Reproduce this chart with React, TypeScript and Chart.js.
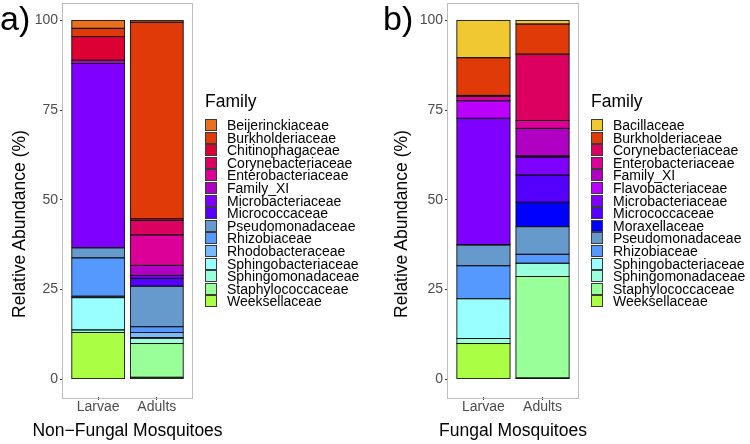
import React, { useEffect, useRef } from "react";
import { Chart, registerables } from "chart.js";

Chart.register(...registerables);

const FONT = "'Liberation Sans', Arial, Helvetica, sans-serif";
Chart.defaults.font.family = FONT;

// ---------- data ----------
const categories = ["Larvae", "Adults"];
const yTicks = [0, 25, 50, 75, 100];

const familiesA = [
  "Beijerinckiaceae", "Burkholderiaceae", "Chitinophagaceae", "Corynebacteriaceae",
  "Enterobacteriaceae", "Family_XI", "Microbacteriaceae", "Micrococcaceae",
  "Pseudomonadaceae", "Rhizobiaceae", "Rhodobacteraceae", "Sphingobacteriaceae",
  "Sphingomonadaceae", "Staphylococcaceae", "Weeksellaceae",
];
const nonFungalLarvae = [2.2, 2.3, 6.6, 0, 0, 0.9, 51.4, 0, 2.8, 10.7, 0.4, 9.0, 0.7, 0, 13.0];
const nonFungalAdults = [0.5, 54.8, 0.5, 4.0, 8.5, 2.8, 0.8, 2.2, 11.3, 1.6, 1.4, 0.2, 1.5, 9.4, 0.5];

const familiesB = [
  "Bacillaceae", "Burkholderiaceae", "Corynebacteriaceae", "Enterobacteriaceae",
  "Family_XI", "Flavobacteriaceae", "Microbacteriaceae", "Micrococcaceae",
  "Moraxellaceae", "Pseudomonadaceae", "Rhizobiaceae", "Sphingobacteriaceae",
  "Sphingomonadaceae", "Staphylococcaceae", "Weeksellaceae",
];
const fungalLarvae = [10.4, 10.5, 0.3, 1.2, 0, 4.9, 35.2, 0.1, 0, 5.8, 9.2, 11.1, 1.4, 0, 9.9];
const fungalAdults = [1.0, 8.4, 18.5, 2.2, 7.7, 0.3, 5.0, 7.6, 6.8, 7.7, 2.5, 0, 3.7, 28.3, 0.3];

const familyColors: Record<string, string> = {
  Bacillaceae: "#F0C832",
  Beijerinckiaceae: "#E8701E",
  Burkholderiaceae: "#DF3A07",
  Chitinophagaceae: "#DC0033",
  Corynebacteriaceae: "#DC0060",
  Enterobacteriaceae: "#DC0098",
  Family_XI: "#B000C4",
  Flavobacteriaceae: "#BB00FF",
  Microbacteriaceae: "#8000FF",
  Micrococcaceae: "#5500FF",
  Moraxellaceae: "#0000FF",
  Pseudomonadaceae: "#6699CC",
  Rhizobiaceae: "#5599FF",
  Rhodobacteraceae: "#77BBFF",
  Sphingobacteriaceae: "#99FFFF",
  Sphingomonadaceae: "#99FFDD",
  Staphylococcaceae: "#99FF99",
  Weeksellaceae: "#AAFF44",
};

// ---------- helpers ----------
const framePlugin = {
  id: "panelFrame",
  afterDraw(chart: any) {
    const { ctx, chartArea: a } = chart;
    ctx.save();
    ctx.strokeStyle = "#BDBDBD";
    ctx.lineWidth = 1;
    ctx.strokeRect(Math.round(a.left) - 0.5, Math.round(a.top) + 0.5, Math.round(a.right - a.left) + 1, Math.round(a.bottom - a.top));
    ctx.restore();
  },
};

// outline every stacked segment with a single thin dark line (like ggplot's colour = "black")
const outlinePlugin = {
  id: "segmentOutline",
  afterDatasetsDraw(chart: any) {
    const { ctx } = chart;
    ctx.save();
    ctx.strokeStyle = "#111111";
    ctx.lineWidth = 0.9;
    chart.data.datasets.forEach((_: any, di: number) => {
      const meta = chart.getDatasetMeta(di);
      meta.data.forEach((el: any) => {
        const h = Math.abs(el.base - el.y);
        if (!(h > 0)) return;
        const left = el.x - el.width / 2;
        const top = Math.min(el.y, el.base);
        ctx.strokeRect(left, top, el.width, h);
      });
    });
    ctx.restore();
  },
};

type PanelProps = {
  left: number;
  families: string[];
  larvae: number[];
  adults: number[];
  letter: string;
  xTitle: string;
  areaLeft: number;
  areaRight: number;
  yTitleX: number;
  letterLeft: number;
  legendLeft: number;
};

const W = 375;
const H = 444;

function Panel(p: PanelProps) {
  const ref = useRef<HTMLCanvasElement | null>(null);

  useEffect(() => {
    if (!ref.current) return;
    const series = [p.larvae, p.adults];
    // ggplot stacks the first legend entry on top, Chart.js stacks the first dataset at the bottom
    const datasets = p.families
      .map((f, i) => ({
        label: f,
        data: categories.map((_, j) => ({ x: j + 1, y: series[j][i] })),
        backgroundColor: familyColors[f],
        borderWidth: 0,
        inflateAmount: 0,
        barPercentage: 0.9,
        categoryPercentage: 1,
      }))
      .reverse();
    const chart = new Chart(ref.current, {
      type: "bar",
      data: { datasets },
      options: {
        animation: false,
        responsive: false,
        devicePixelRatio: 1,
        layout: { padding: { left: 0, top: 2.5, right: W - p.areaRight, bottom: 0 } },
        plugins: { legend: { display: false }, tooltip: { enabled: false } },
        scales: {
          x: {
            type: "linear",
            stacked: true,
            offset: false,
            min: 0.4,
            max: 2.6,
            afterBuildTicks: (s: any) => {
              s.ticks = categories.map((_, i) => ({ value: i + 1 }));
            },
            afterFit: (s: any) => {
              s.height = 47;
              s.paddingLeft = 0;
              s.paddingRight = 0;
            },
            ticks: {
              callback: (v: any) => categories[Number(v) - 1] ?? "",
              color: "#4D4D4D",
              font: { size: 14 },
              padding: -1,
              maxRotation: 0,
              autoSkip: false,
            },
            grid: { display: true, offset: false, drawOnChartArea: false, drawTicks: true, tickLength: 3, color: "#333333" },
            border: { display: false },
            title: { display: false },
          },
          y: {
            stacked: true,
            min: -5,
            max: 105,
            afterBuildTicks: (s: any) => {
              s.ticks = yTicks.map((v) => ({ value: v }));
            },
            afterFit: (s: any) => {
              s.width = p.areaLeft;
              s.paddingTop = 0;
              s.paddingBottom = 0;
            },
            ticks: { color: "#4D4D4D", font: { size: 14 }, padding: 2 },
            grid: { display: true, drawOnChartArea: false, drawTicks: true, tickLength: 3, color: "#333333" },
            border: { display: false },
          },
        },
      } as any,
      plugins: [outlinePlugin, framePlugin],
    });
    return () => chart.destroy();
  }, []);

  const keyTop0 = 125;
  const step = 12.6;
  const text = { fontFamily: FONT, color: "#000", whiteSpace: "nowrap" as const, position: "absolute" as const };

  return (
    <div style={{ position: "absolute", left: p.left, top: 0, width: W, height: H }}>
      <canvas ref={ref} width={W} height={H} style={{ position: "absolute", left: 0, top: 0, width: W, height: H }} />
      <div style={{ ...text, left: p.letterLeft, top: 1, fontSize: 34, lineHeight: "34px" }}>{p.letter}</div>
      <div
        style={{
          ...text,
          left: p.yTitleX,
          top: 224,
          transform: "translate(-50%, -50%) rotate(-90deg)",
          fontSize: 17.5,
          lineHeight: "17.5px",
        }}
      >
        Relative Abundance (%)
      </div>
      <div
        style={{
          ...text,
          left: (p.areaLeft + p.areaRight) / 2,
          top: 422,
          transform: "translateX(-50%)",
          fontSize: 17.5,
          lineHeight: "17.5px",
        }}
      >
        {p.xTitle}
      </div>
      <div style={{ ...text, left: p.legendLeft, top: 93, fontSize: 17.5, lineHeight: "17.5px" }}>Family</div>
      {p.families.map((f, i) => {
        const cy = keyTop0 + step * i;
        return (
          <React.Fragment key={f}>
            <div
              style={{
                position: "absolute",
                left: p.legendLeft,
                top: cy - 6,
                width: 12,
                height: 12,
                boxSizing: "border-box",
                border: "1px solid #3A3A3A",
                background: familyColors[f],
              }}
            />
            <div style={{ ...text, left: p.legendLeft + 22, top: cy - 7, height: 14, fontSize: 14, lineHeight: "14px" }}>{f}</div>
          </React.Fragment>
        );
      })}
    </div>
  );
}

export default function App() {
  return (
    <div style={{ position: "absolute", left: 0, top: 0, width: 750, height: 444, background: "#fff", overflow: "hidden" }}>
      <Panel
        left={0}
        families={familiesA}
        larvae={nonFungalLarvae}
        adults={nonFungalAdults}
        letter="a)"
        xTitle="Non−Fungal Mosquitoes"
        areaLeft={63}
        areaRight={192}
        yTitleX={20}
        letterLeft={0}
        legendLeft={205}
      />
      <Panel
        left={375}
        families={familiesB}
        larvae={fungalLarvae}
        adults={fungalAdults}
        letter="b)"
        xTitle="Fungal Mosquitoes"
        areaLeft={73}
        areaRight={203}
        yTitleX={27}
        letterLeft={8}
        legendLeft={216}
      />
    </div>
  );
}
